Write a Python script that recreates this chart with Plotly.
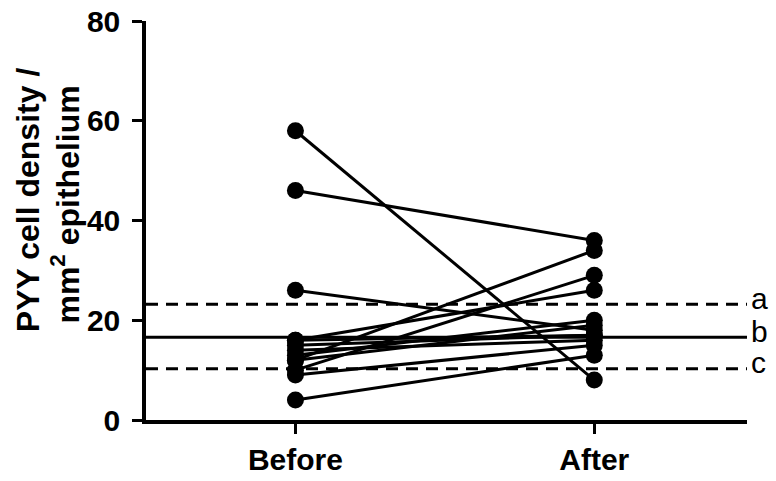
import plotly.graph_objects as go

categories = ["Before", "After"]
before = [58, 46, 26, 4, 12, 10, 16, 13, 15, 14, 9, 12, 16]
after = [8, 36, 18, 13, 34, 29, 26, 20, 17, 16, 15, 19, 17]
ref_labels = ["a", "b", "c"]
ref_values = [23.2, 16.6, 10.3]
ref_dash = ["dash", "solid", "dash"]
y_ticks = [0, 20, 40, 60, 80]
title_lines = ["PYY cell density /", "mm<sup>2</sup> epithelium"]

FONT = "Arial, Liberation Sans, Helvetica, sans-serif"

fig = go.Figure()
for b, a in zip(before, after):
    fig.add_trace(go.Scatter(
        x=[0, 1], y=[b, a], mode="lines+markers",
        line=dict(color="black", width=3),
        marker=dict(color="black", size=17),
        showlegend=False, hoverinfo="skip", cliponaxis=False))

for lab, val, d in zip(ref_labels, ref_values, ref_dash):
    fig.add_shape(type="line", xref="paper", x0=0, x1=1, yref="y", y0=val, y1=val,
                  line=dict(color="black", width=3, dash="12px,8px" if d == "dash" else "solid"),
                  layer="above")
    fig.add_annotation(xref="paper", x=1, xanchor="left", xshift=2, yref="y", y=val, yanchor="middle",
                       yshift=6, text=lab, showarrow=False,
                       font=dict(family=FONT, size=30, color="black"))

# y-axis title, two lines
for txt, px, py in zip(title_lines, [28, 65], [0.551, 0.540]):
    fig.add_annotation(xref="paper", x=(px - 146) / 601, yref="paper", y=py, text=txt,
                       textangle=-90, showarrow=False, xanchor="center", yanchor="middle",
                       font=dict(family=FONT, size=32, color="black", weight="bold"))

fig.update_xaxes(range=[-0.5, 1.511], tickvals=[0, 1], ticktext=categories,
                 showline=True, linecolor="black", linewidth=3.5, ticks="outside",
                 ticklen=10, tickwidth=3, tickcolor="black", showgrid=False, zeroline=False,
                 tickfont=dict(family=FONT, size=30, color="black", weight="bold"))
fig.update_yaxes(range=[0, 80], tickvals=y_ticks, showline=True, linecolor="black", linewidth=3.5,
                 ticks="outside", ticklen=10, tickwidth=3, tickcolor="black", showgrid=False,
                 zeroline=False, ticklabelstandoff=6,
                 tickfont=dict(family=FONT, size=30, color="black", weight="bold"))

fig.update_layout(width=776, height=481, margin=dict(l=146, r=29, t=21, b=61, autoexpand=False),
                  plot_bgcolor="white", paper_bgcolor="white")
fig.write_html("out.html", config={"displayModeBar": False},
               post_script="document.body.style.margin='0';document.body.style.overflow='hidden';")
